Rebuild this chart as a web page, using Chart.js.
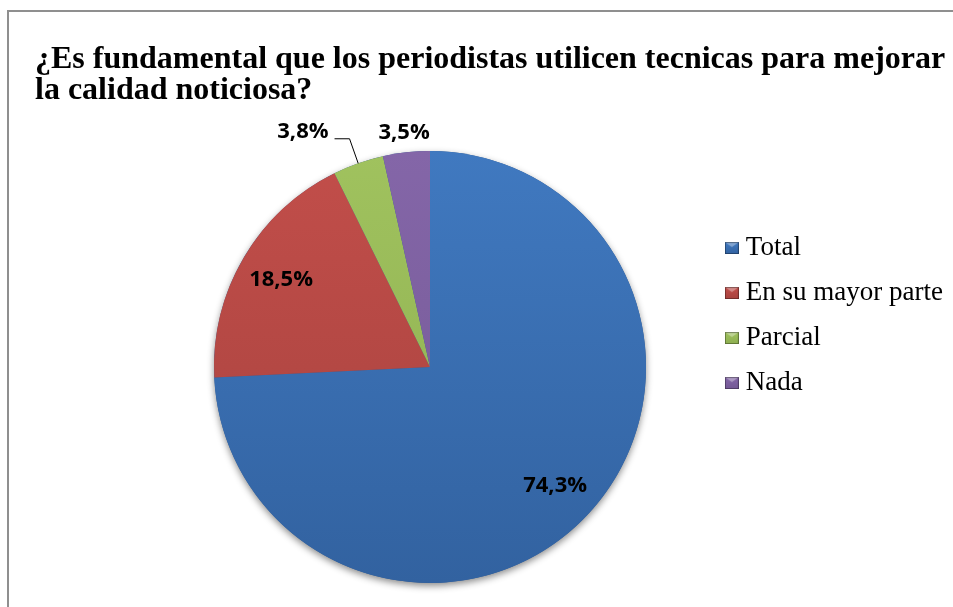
<!DOCTYPE html>
<html>
<head>
<meta charset="utf-8">
<script src="https://cdn.jsdelivr.net/npm/chart.js@4"></script>
<style>
  html, body { margin: 0; padding: 0; background: #fff; }
  #frame { position: absolute; left: 7px; top: 10px; width: 1000px; height: 700px;
           border-left: 2px solid #8f8f8f; border-top: 2px solid #8f8f8f; }
  #wrap { position: absolute; left: 0; top: 0; width: 953px; height: 607px; }
</style>
</head>
<body>
<div id="frame"></div>
<div id="wrap"><canvas id="myChart"></canvas></div>
<script>
// data
const labels = ['Total', 'En su mayor parte', 'Parcial', 'Nada'];
const values = [74.3, 18.5, 3.8, 3.5];
const titleLines = ['¿Es fundamental que los periodistas utilicen tecnicas para mejorar', 'la calidad noticiosa?'];

// look
const topColors = ['#4079C0', '#C24E4A', '#A0C25E', '#8466A8'];
const bottomColors = ['#3262A0', '#A6423E', '#8DAE50', '#735894'];
const labelPlacement = ['inside', 'inside', 'leader', 'outside'];
const pieCenter = { x: 430, y: 367 };
const pieRadius = 216;

const fmt = v => v.toFixed(1).replace('.', ',') + '%';

// little bevelled legend squares
const swatches = topColors.map((c, i) => {
  const cv = document.createElement('canvas');
  cv.width = 14; cv.height = 12;
  const g = cv.getContext('2d');
  const grd = g.createLinearGradient(0, 0, 0, 12);
  grd.addColorStop(0, c);
  grd.addColorStop(1, bottomColors[i]);
  g.fillStyle = grd;
  g.fillRect(0, 0, 14, 12);
  g.fillStyle = 'rgba(255,255,255,0.35)';
  g.beginPath(); g.moveTo(0, 0); g.lineTo(14, 0); g.lineTo(7, 5); g.closePath(); g.fill();
  g.strokeStyle = 'rgba(0,0,0,0.35)';
  g.strokeRect(0.5, 0.5, 13, 11);
  return cv;
});

// pie goes where the reference has it, title/legend keep their own boxes
const placePie = {
  id: 'placePie',
  afterLayout(chart) {
    const a = chart.chartArea;
    a.left = pieCenter.x - pieRadius; a.right = pieCenter.x + pieRadius;
    a.top = pieCenter.y - pieRadius; a.bottom = pieCenter.y + pieRadius;
    a.width = a.right - a.left; a.height = a.bottom - a.top;
  }
};

const pieShadow = {
  id: 'pieShadow',
  beforeDatasetsDraw(chart) {
    const arc = chart.getDatasetMeta(0).data[0];
    if (!arc) return;
    const c = chart.ctx;
    c.save();
    c.shadowColor = 'rgba(0,0,0,0.45)';
    c.shadowBlur = 7;
    c.shadowOffsetY = 3;
    c.fillStyle = '#2f5a92';
    c.beginPath();
    c.arc(arc.x, arc.y, arc.outerRadius, 0, Math.PI * 2);
    c.fill();
    c.restore();
  }
};

const pieLabels = {
  id: 'pieLabels',
  afterDatasetsDraw(chart) {
    const c = chart.ctx;
    c.save();
    c.font = 'bold 22px "Open Sans", sans-serif';
    c.fillStyle = '#000';
    c.strokeStyle = '#000';
    c.lineWidth = 1;
    c.textBaseline = 'middle';
    chart.getDatasetMeta(0).data.forEach((arc, i) => {
      const mid = (arc.startAngle + arc.endAngle) / 2;
      const cos = Math.cos(mid), sin = Math.sin(mid);
      const R = arc.outerRadius;
      const txt = fmt(values[i]);
      if (labelPlacement[i] === 'inside') {
        c.textAlign = 'center';
        c.fillText(txt, arc.x + cos * R * 0.8, arc.y + sin * R * 0.8);
      } else if (labelPlacement[i] === 'outside') {
        c.textAlign = 'center';
        c.fillText(txt, arc.x + cos * (R + 20), arc.y + sin * (R + 20));
      } else {
        const ex = arc.x + cos * R, ey = arc.y + sin * R;
        const bx = arc.x + cos * (R + 26), by = arc.y + sin * (R + 26);
        c.beginPath();
        c.moveTo(ex, ey); c.lineTo(bx, by); c.lineTo(bx - 15, by);
        c.stroke();
        c.textAlign = 'right';
        c.fillText(txt, bx - 21, by - 7);
      }
    });
    c.restore();
  }
};

var ctx = document.getElementById('myChart').getContext('2d');

var chart = new Chart(ctx, {
  type: 'pie',
  data: {
    labels: labels,
    datasets: [{
      data: values,
      borderWidth: 0,
      backgroundColor: (context) => {
        const i = context.dataIndex;
        const area = context.chart.chartArea;
        if (!area || i === undefined) return topColors[i || 0];
        const g = context.chart.ctx.createLinearGradient(0, area.top, 0, area.bottom);
        g.addColorStop(0, topColors[i]);
        g.addColorStop(1, bottomColors[i]);
        return g;
      }
    }]
  },
  options: {
    responsive: true,
    maintainAspectRatio: false,
    animation: false,
    layout: { padding: { left: 35, right: 0, top: 0, bottom: 0 } },
    plugins: {
      title: {
        display: true,
        text: titleLines,
        align: 'start',
        color: '#000',
        font: { family: '"Liberation Serif", "Times New Roman", serif', size: 32, weight: 'bold', lineHeight: 0.97 },
        padding: { top: 44.5, bottom: 110 }
      },
      legend: {
        position: 'right',
        align: 'start',
        fullSize: false,
        labels: {
          color: '#000',
          font: { family: '"Liberation Serif", "Times New Roman", serif', size: 27 },
          padding: 18,
          usePointStyle: true,
          pointStyleWidth: 1,
          generateLabels: (chart) => {
            const items = Chart.overrides.doughnut.plugins.legend.labels.generateLabels(chart);
            return items.map((it, i) => Object.assign(it, { pointStyle: swatches[i] }));
          }
        }
      },
      tooltip: { enabled: false }
    }
  },
  plugins: [placePie, pieShadow, pieLabels]
});
</script>
</body>
</html>
